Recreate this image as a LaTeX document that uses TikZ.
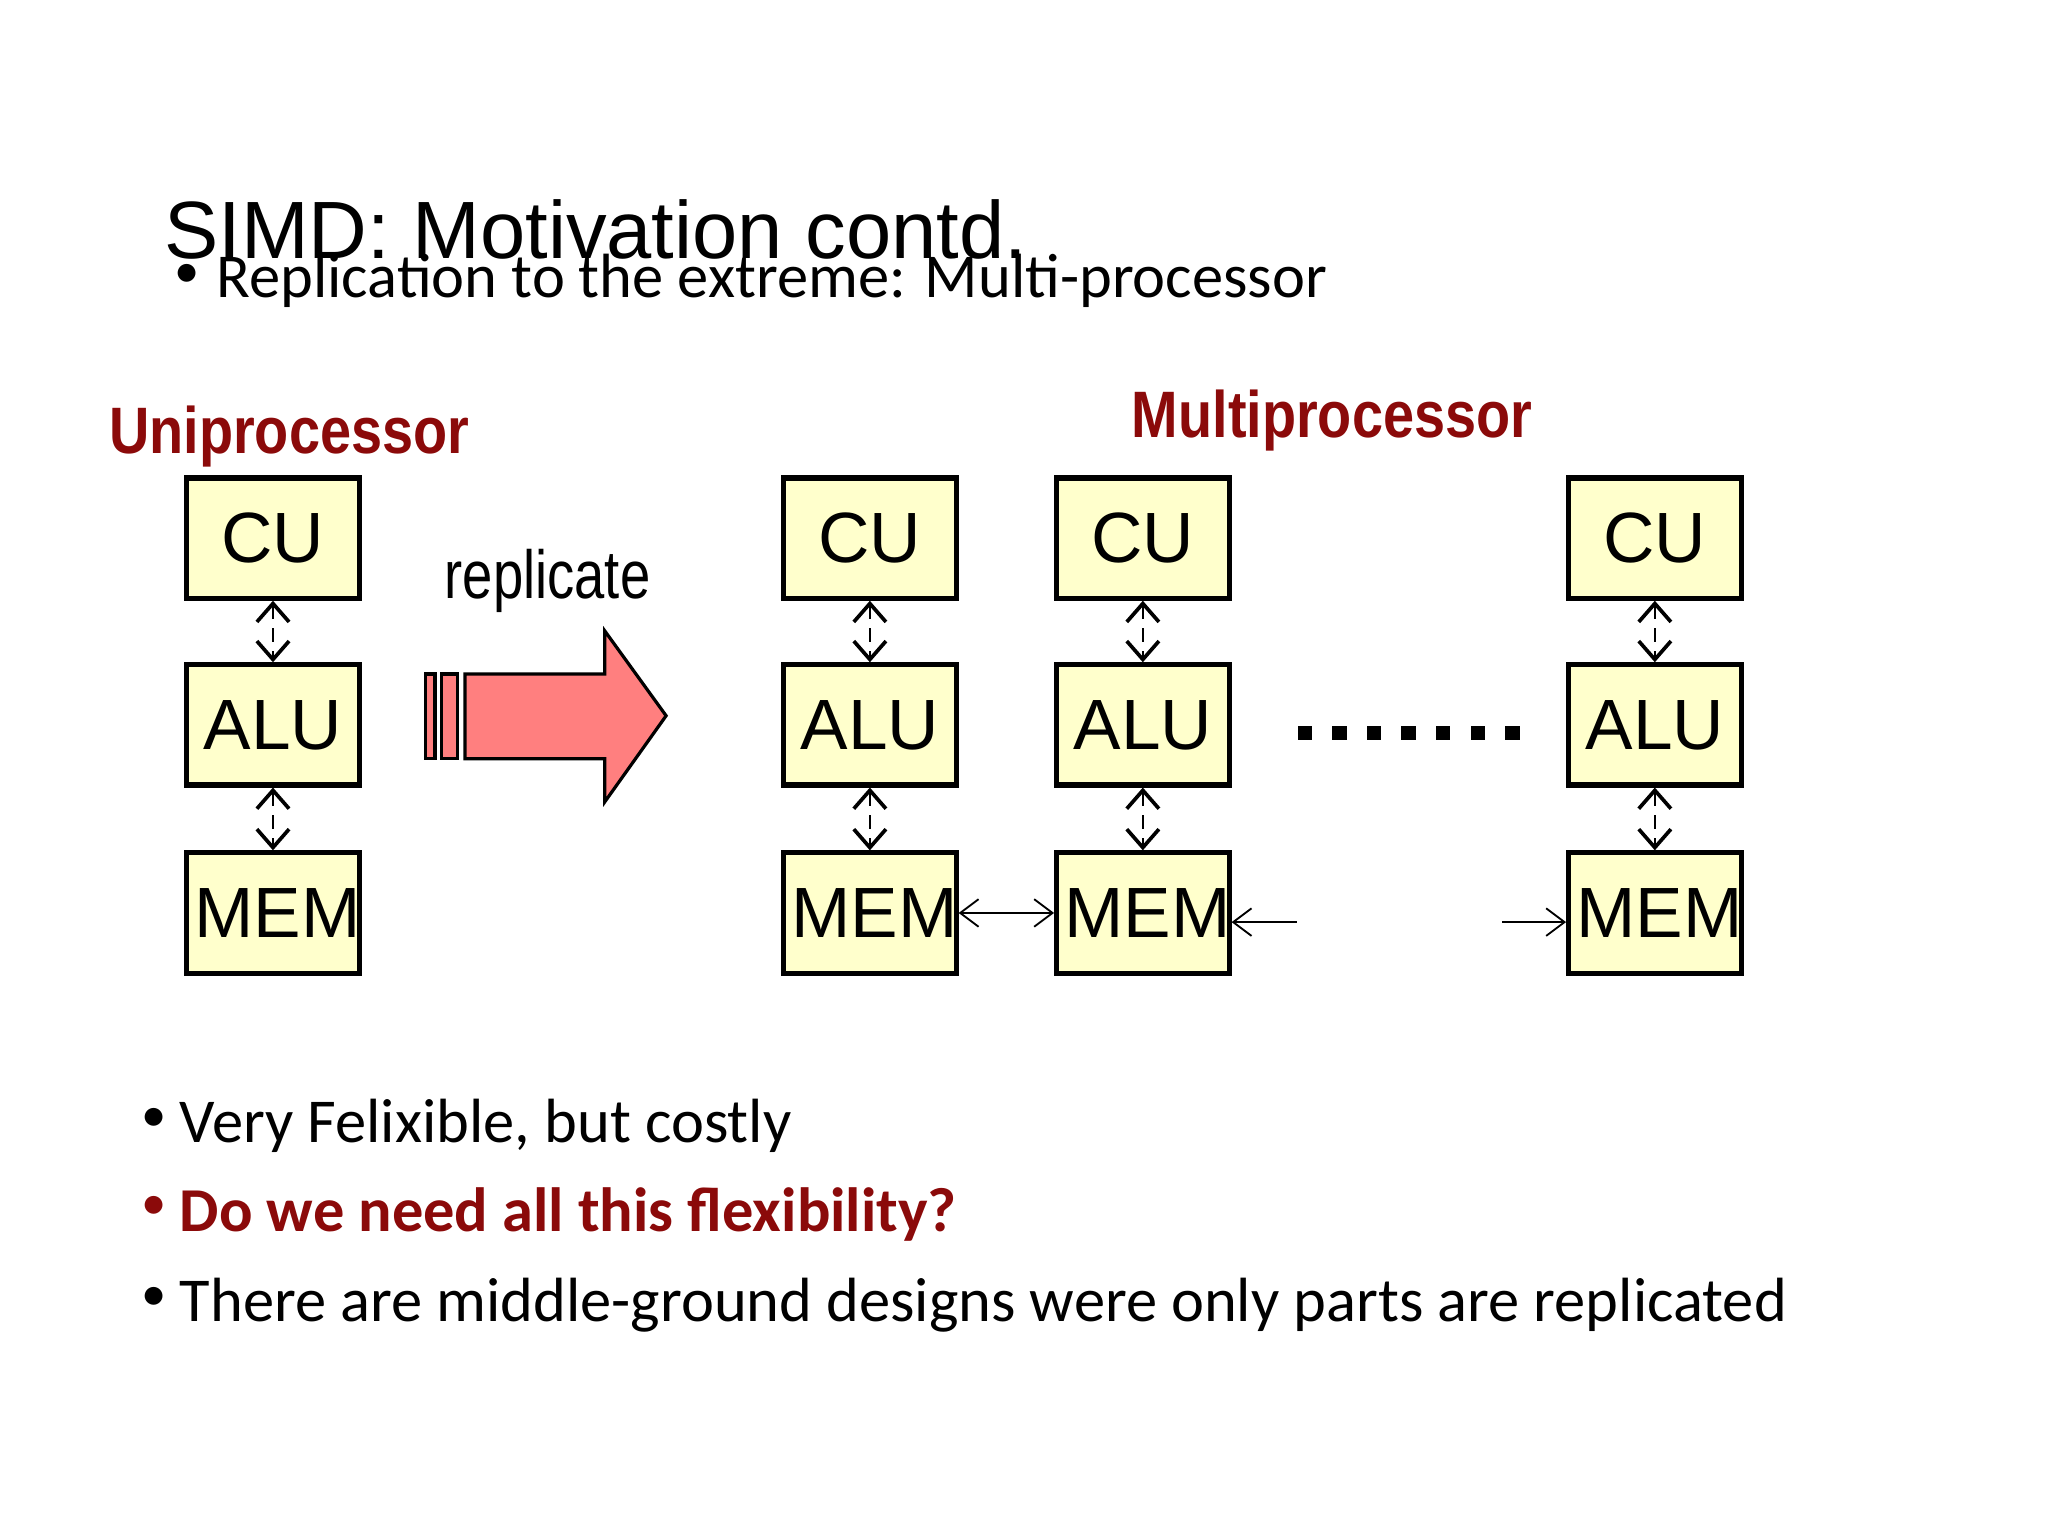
\documentclass[tikz,border=0pt]{standalone}
\usepackage{fontspec}
\setmainfont{Liberation Sans}
\newfontfamily\carl{Carlito}
\usetikzlibrary{arrows.meta}
\definecolor{boxfill}{HTML}{FFFFCC}
\definecolor{dred}{HTML}{8B0A0A}
\definecolor{pink}{HTML}{FF7F7F}
\begin{document}
\begin{tikzpicture}[x=0.01cm,y=-0.01cm,
  blk/.style={draw,line width=1.1pt,fill=boxfill,minimum width=1.32cm,minimum height=0.92cm,text width=1.2cm,align=center,inner sep=0pt,font=\fontsize{15.5}{17}\selectfont},
  vlink/.style={dashed,line width=0.5pt,dash pattern=on 3pt off 2pt,{Straight Barb[length=4pt,width=7pt,line width=0.8pt]}-{Straight Barb[length=4pt,width=7pt,line width=0.8pt]}},
  hlink/.style={line width=0.4pt,-{Straight Barb[length=4pt,width=6pt]}},
  bul/.style={anchor=base west,font=\carl\fontsize{13.6}{16}\selectfont,inner sep=0pt},
  dot/.style={anchor=base west,font=\carl\fontsize{11}{12}\selectfont,inner sep=0pt},
  sq/.style={fill=black,minimum size=0.11cm,inner sep=0pt}]
\useasboundingbox (0,0) rectangle (1568,1176);
\node[anchor=base west,inner sep=0pt,font=\fontsize{17.7}{20}\selectfont] (title) at (125,198) {SIMD: Motivation contd.};
\node[dot] (b0d) at (133,220) {•};
\node[bul] (b0) at (165,228) {Replication to the extreme: Multi-processor};
\node[anchor=base west,inner sep=0pt,text=dred,font=\bfseries\fontsize{14.3}{16}\selectfont,xscale=0.85] (uni) at (83,347) {Uniprocessor};
\node[anchor=base west,inner sep=0pt,text=dred,font=\bfseries\fontsize{14.3}{16}\selectfont,xscale=0.85] (multi) at (866,335) {Multiprocessor};
\node[anchor=base west,inner sep=0pt,font=\fontsize{14.8}{16}\selectfont,xscale=0.8] (rep) at (340,458) {replicate};
\foreach \n/\x in {a/209,b/666,c/875,d/1267}{
  \node[blk] (cu\n) at (\x,412) {CU};
  \node[blk] (alu\n) at (\x,555) {ALU};
  \node[blk] (mem\n) at (\x,699) {MEM};
  \draw[vlink] (cu\n) -- (alu\n);
  \draw[vlink] (alu\n) -- (mem\n);
}
\draw[line width=0.7pt,fill=pink] (326,516) rectangle (333,581);
\draw[line width=0.7pt,fill=pink] (338,516) rectangle (350,581);
\draw[line width=0.7pt,fill=pink] (356,516) -- (463,516) -- (463,483) -- (510,548) -- (463,614) -- (463,581) -- (356,581) -- cycle;
\foreach \i in {0,...,6}{\node[sq] (d\i) at (999+\i*26.5,561) {};}
\draw[hlink,{Straight Barb[length=4pt,width=6pt]}-{Straight Barb[length=4pt,width=6pt]}] (memb.east) -- (memc.west);
\coordinate (r1) at (993,706);
\coordinate (r2) at (1150,706);
\draw[hlink] (r1) -- (memc.east|-r1);
\draw[hlink] (r2) -- (memd.west|-r2);
\node[dot] (b1d) at (108,866) {•};
\node[bul] (b1) at (137,875) {Very Felixible, but costly};
\node[dot,text=dred] (b2d) at (108,934) {•};
\node[bul,text=dred,font=\carl\bfseries\fontsize{13.6}{16}\selectfont] (b2) at (137,943) {Do we need all this flexibility?};
\node[dot] (b3d) at (108,1003) {•};
\node[bul] (b3) at (137,1012) {There are middle-ground designs were only parts are replicated};
\end{tikzpicture}
\end{document}
